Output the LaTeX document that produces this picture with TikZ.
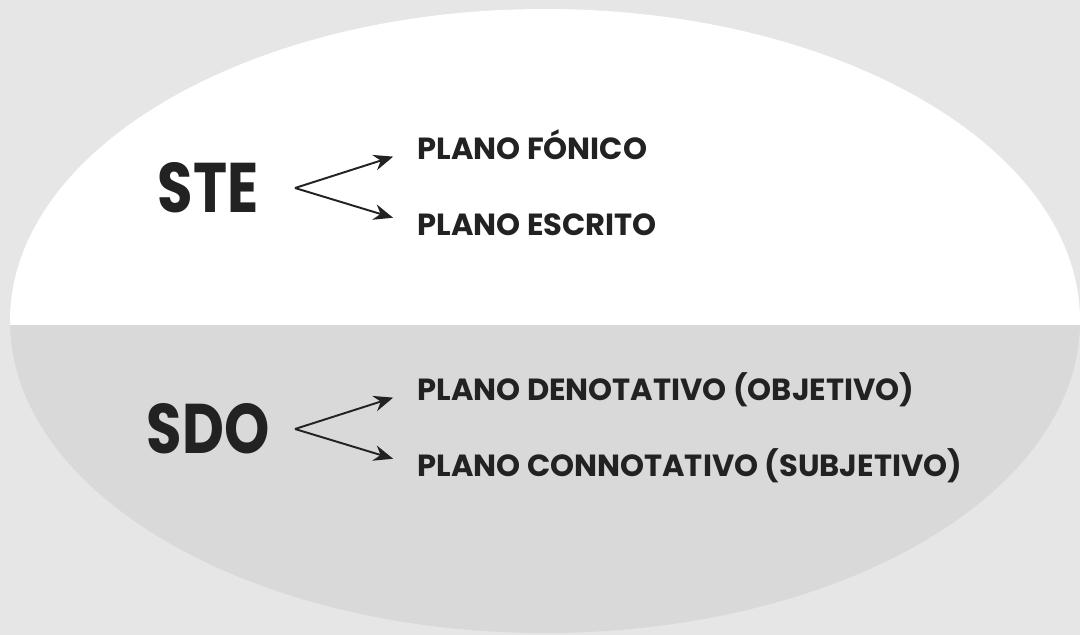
\documentclass[tikz,border=0pt]{standalone}
\usepackage{fontspec}
\setmainfont{Poppins}
\newfontfamily\siglafont[FakeStretch=0.82]{Poppins}
\usetikzlibrary{arrows.meta}
\definecolor{fondo}{HTML}{E6E6E6}
\definecolor{banda}{HTML}{D9D9D9}
\definecolor{tinta}{HTML}{222222}
\tikzset{
  sigla/.style={font=\siglafont\fontsize{40}{40}\selectfont\bfseries, text=tinta,
    inner sep=0pt, text height=28pt, text depth=0pt},
  plano/.style={font=\fontsize{17.4}{17.4}\selectfont\bfseries, text=tinta,
    inner sep=0pt, anchor=west, text height=12.2pt, text depth=0pt},
  flecha/.style={draw=tinta, line width=1.1pt,
    -{Stealth[length=11pt,width=9pt]}, shorten >=0.5cm}
}
\begin{document}
\begin{tikzpicture}[x=0.02cm,y=0.02cm]
\newcommand{\bifurca}[5]{
  \node[sigla] (#1) at (208,#2) {#3};
  \coordinate (#1-r) at (295,#2);
  \node[plano] (#1-a) at (417,#2+39) {#4};
  \node[plano] (#1-b) at (417,#2-37) {#5};
  \draw[flecha] (#1-r) -- (#1-a.west);
  \draw[flecha] (#1-r) -- (#1-b.west);
}

% fondo y elipse partida en dos
\fill[fondo] (0,0) rectangle (1080,-635);
\begin{scope}
  \clip (545,-321) ellipse [x radius=535, y radius=312];
  \fill[white] (0,0) rectangle (1080,-325);
  \fill[banda] (0,-325) rectangle (1080,-635);
\end{scope}

% los dos sistemas
\bifurca{ste}{-188}{STE}{PLANO FÓNICO}{PLANO ESCRITO}
\bifurca{sdo}{-429}{SDO}{PLANO DENOTATIVO (OBJETIVO)}{PLANO CONNOTATIVO (SUBJETIVO)}
\end{tikzpicture}
\end{document}
